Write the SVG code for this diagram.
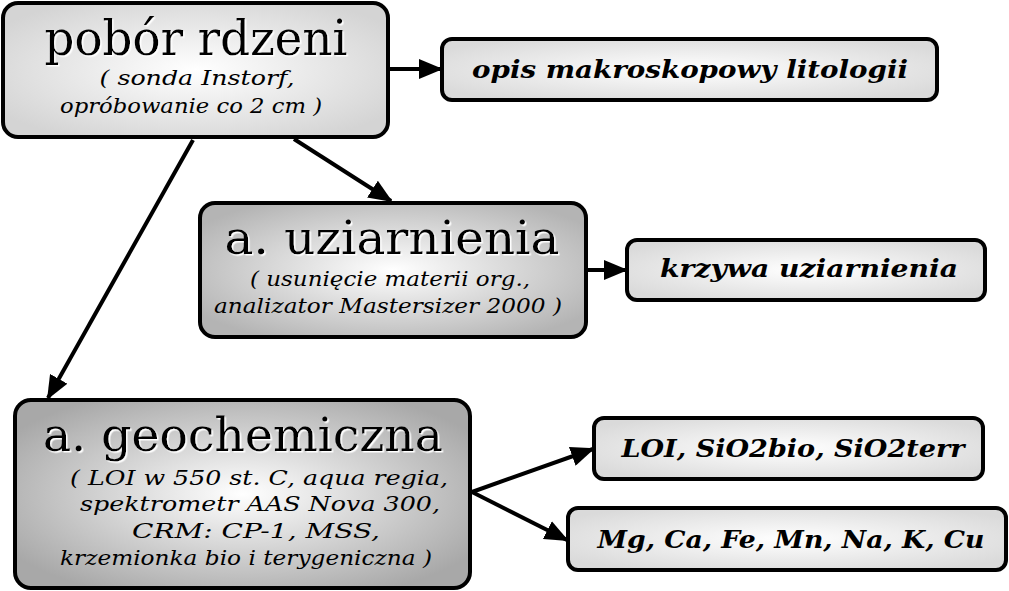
<svg xmlns="http://www.w3.org/2000/svg" width="1009" height="591" viewBox="0 0 1009 591">
<defs>
<radialGradient id="g1" cx="50%" cy="50%" r="60%"><stop offset="0" stop-color="#ffffff"/><stop offset="1" stop-color="#d4d4d4"/></radialGradient>
<radialGradient id="g2" cx="50%" cy="50%" r="60%"><stop offset="0" stop-color="#ffffff"/><stop offset="1" stop-color="#b4b4b4"/></radialGradient>
<radialGradient id="g3" cx="50%" cy="50%" r="60%"><stop offset="0" stop-color="#ffffff"/><stop offset="1" stop-color="#a8a8a8"/></radialGradient>
<radialGradient id="gs" cx="50%" cy="50%" r="60%"><stop offset="0" stop-color="#ffffff"/><stop offset="1" stop-color="#dadada"/></radialGradient>
<filter id="glow" x="-5%" y="-20%" width="110%" height="140%"><feDropShadow dx="1.5" dy="1.5" stdDeviation="0.6" flood-color="#ffffff" flood-opacity="1"/></filter>
<marker id="ah" markerWidth="6" markerHeight="5" refX="5.5" refY="2.5" orient="auto" markerUnits="strokeWidth"><path d="M0,0 L6,2.5 L0,5 Z" fill="#000"/></marker>
</defs>
<style>
.box{stroke:#000;stroke-width:4}
.title{font-family:"DejaVu Serif","Liberation Serif",serif;fill:#000;text-anchor:middle;filter:url(#glow)}
.sub{font-family:"DejaVu Serif","Liberation Serif",serif;font-style:italic;font-size:21px;fill:#000;text-anchor:middle}
.res{font-family:"DejaVu Serif","Liberation Serif",serif;font-style:italic;font-weight:bold;font-size:24px;fill:#000;text-anchor:middle}
.conn{stroke:#000;stroke-width:4;fill:none;marker-end:url(#ah)}
</style>
<g id="connectors">
<line class="conn" x1="390" y1="69" x2="441" y2="69"/>
<line class="conn" x1="294" y1="139" x2="391" y2="201"/>
<line class="conn" x1="193" y1="140" x2="48" y2="398"/>
<line class="conn" x1="588" y1="270" x2="626" y2="270"/>
<line class="conn" x1="472" y1="492" x2="593" y2="449"/>
<line class="conn" x1="472" y1="492" x2="567" y2="540"/>
</g>
<g id="pobor">
<rect class="box" x="3" y="3" width="385" height="134" rx="15" fill="url(#g1)"/>
<text class="title" x="196" y="55" font-size="48" textLength="303" lengthAdjust="spacingAndGlyphs">pobór rdzeni</text>
<text class="sub" x="197" y="85" textLength="195" lengthAdjust="spacingAndGlyphs">( sonda Instorf,</text>
<text class="sub" x="191" y="113" textLength="262" lengthAdjust="spacingAndGlyphs">opróbowanie co 2 cm )</text>
</g>
<g id="opis">
<rect class="box" x="442" y="39" width="495" height="61" rx="10" fill="url(#gs)"/>
<text class="res" x="690" y="78" textLength="436" lengthAdjust="spacingAndGlyphs">opis makroskopowy litologii</text>
</g>
<g id="uziarnienie">
<rect class="box" x="200" y="203" width="386" height="134" rx="15" fill="url(#g2)"/>
<text class="title" x="392" y="254" font-size="46" textLength="335" lengthAdjust="spacingAndGlyphs">a. uziarnienia</text>
<text class="sub" x="390" y="286" textLength="280" lengthAdjust="spacingAndGlyphs">( usunięcie materii org.,</text>
<text class="sub" x="388" y="313" textLength="348" lengthAdjust="spacingAndGlyphs">analizator Mastersizer 2000 )</text>
</g>
<g id="krzywa">
<rect class="box" x="627" y="240" width="358" height="60" rx="10" fill="url(#gs)"/>
<text class="res" x="809" y="277" textLength="298" lengthAdjust="spacingAndGlyphs">krzywa uziarnienia</text>
</g>
<g id="geochemia">
<rect class="box" x="15" y="400" width="455" height="188" rx="16" fill="url(#g3)"/>
<text class="title" x="243" y="451" font-size="46" textLength="400" lengthAdjust="spacingAndGlyphs">a. geochemiczna</text>
<text class="sub" x="259" y="485" textLength="378" lengthAdjust="spacingAndGlyphs">( LOI w 550 st. C, aqua regia,</text>
<text class="sub" x="260" y="511" textLength="360" lengthAdjust="spacingAndGlyphs">spektrometr AAS Nova 300,</text>
<text class="sub" x="256" y="538" textLength="248" lengthAdjust="spacingAndGlyphs">CRM: CP-1, MSS,</text>
<text class="sub" x="246" y="565" textLength="372" lengthAdjust="spacingAndGlyphs">krzemionka bio i terygeniczna )</text>
</g>
<g id="loi">
<rect class="box" x="594" y="418" width="389" height="61" rx="10" fill="url(#gs)"/>
<text class="res" x="793" y="457" textLength="343" lengthAdjust="spacingAndGlyphs">LOI, SiO2bio, SiO2terr</text>
</g>
<g id="pierwiastki">
<rect class="box" x="568" y="508" width="438" height="62" rx="10" fill="url(#gs)"/>
<text class="res" x="791" y="548" textLength="387" lengthAdjust="spacingAndGlyphs">Mg, Ca, Fe, Mn, Na, K, Cu</text>
</g>
</svg>
